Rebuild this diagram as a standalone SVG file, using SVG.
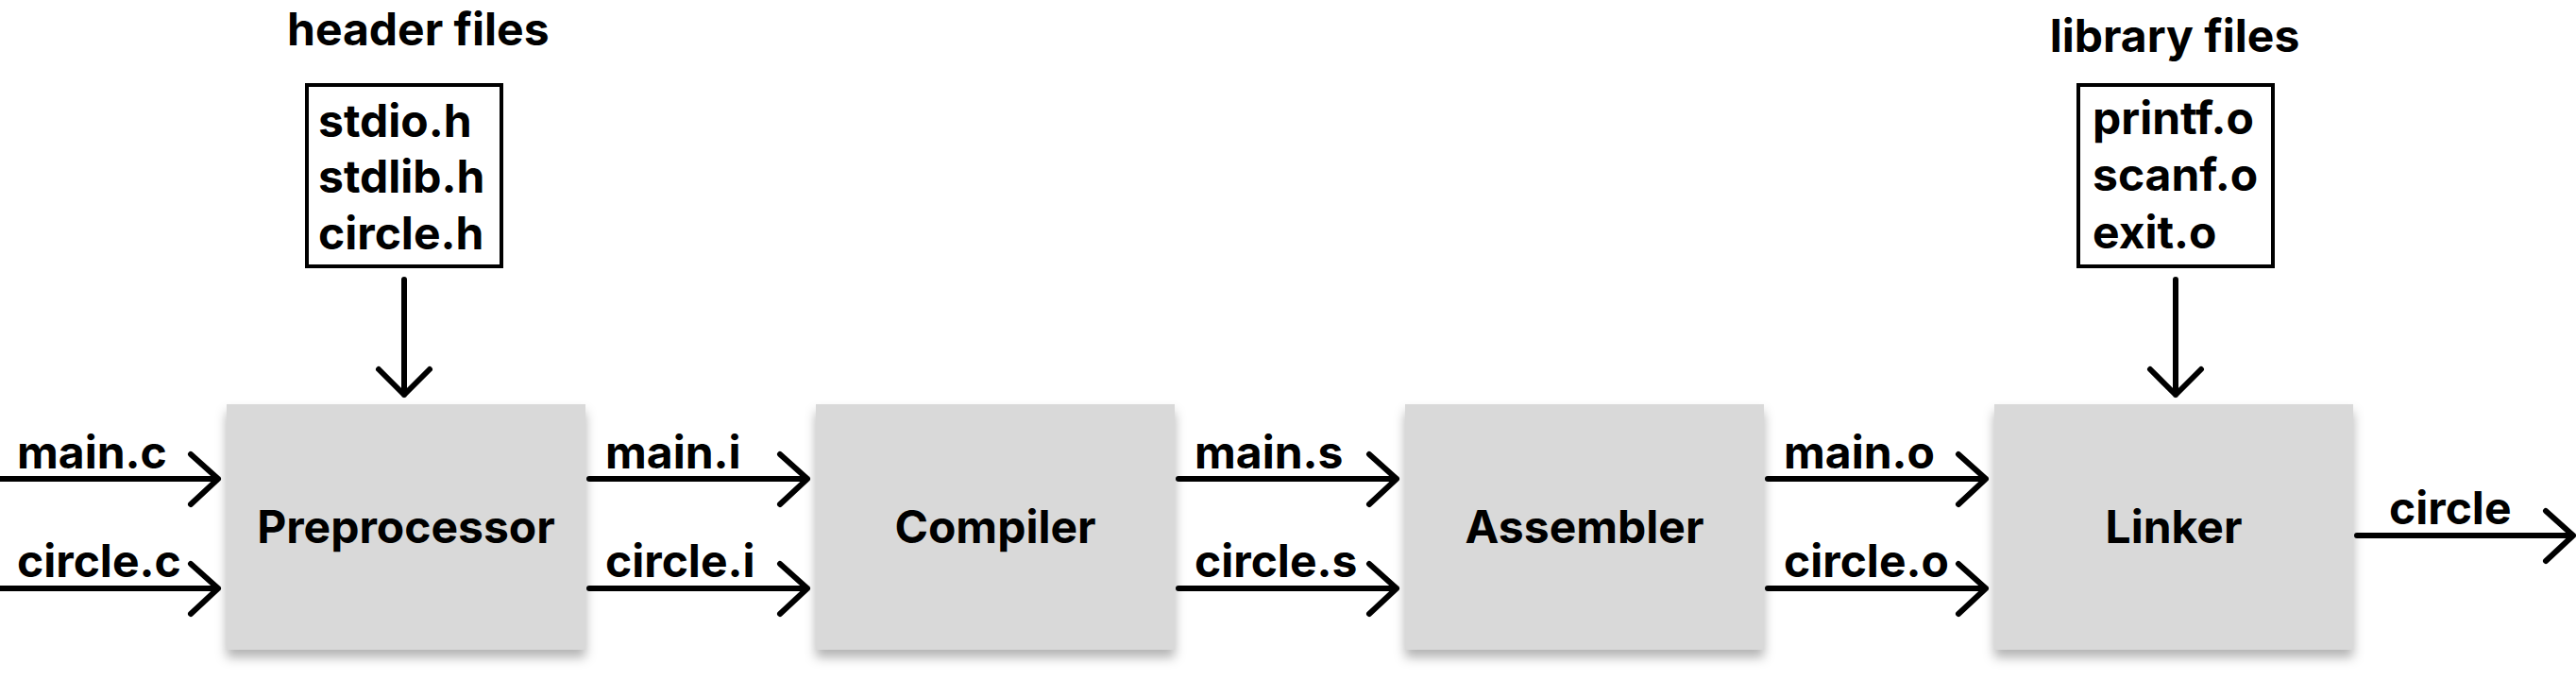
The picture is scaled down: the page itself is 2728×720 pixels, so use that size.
<svg xmlns="http://www.w3.org/2000/svg" width="2728" height="720" viewBox="0 0 2728 720">
<style>
text{font-family:Inter,"Liberation Sans",sans-serif;font-weight:700;font-size:48px;fill:#000}
.node{fill:#d9d9d9;filter:url(#sh)}
.mid{text-anchor:middle}
.c{fill:none;stroke:#000;stroke-width:6;stroke-linecap:round;stroke-linejoin:round}
.fbox{fill:#fff;stroke:#000;stroke-width:4}
</style>
<defs>
<filter id="sh" x="-10%" y="-10%" width="120%" height="130%">
<feDropShadow dx="0" dy="8" stdDeviation="6" flood-color="#000" flood-opacity="0.3"/>
</filter>
</defs>
<rect width="2728" height="720" fill="#fff"/>
<g id="header">
<text x="304" y="48">header files</text>
<rect class="fbox" x="325" y="90" width="206" height="192"/>
<text x="337" y="145">stdio.h</text>
<text x="337" y="204">stdlib.h</text>
<text x="337" y="264">circle.h</text>
</g>
<g id="library">
<text x="2303" y="55" class="mid">library files</text>
<rect class="fbox" x="2201" y="90" width="206" height="192"/>
<text x="2216" y="142">printf.o</text>
<text x="2216" y="202">scanf.o</text>
<text x="2216" y="263">exit.o</text>
</g>
<g id="preprocessor">
<rect class="node" x="240" y="428" width="380" height="260"/>
<text x="430" y="575" class="mid">Preprocessor</text>
</g>
<g id="compiler">
<rect class="node" x="864" y="428" width="380" height="260"/>
<text x="1054" y="575" class="mid">Compiler</text>
</g>
<g id="assembler">
<rect class="node" x="1488" y="428" width="380" height="260"/>
<text x="1678" y="575" class="mid">Assembler</text>
</g>
<g id="linker">
<rect class="node" x="2112" y="428" width="380" height="260"/>
<text x="2302" y="575" class="mid">Linker</text>
</g>
<g id="connectors">
<path class="c" d="M428 296V418M401 391L428 418L455 391"/>
<path class="c" d="M2304 296V418M2277 391L2304 418L2331 391"/>
<path class="c" d="M0 507H231M202 481L231 507L202 534"/>
<path class="c" d="M0 623H231M202 597L231 623L202 650"/>
<path class="c" d="M624 507H855M826 481L855 507L826 534"/>
<path class="c" d="M624 623H855M826 597L855 623L826 650"/>
<path class="c" d="M1248 507H1479M1450 481L1479 507L1450 534"/>
<path class="c" d="M1248 623H1479M1450 597L1479 623L1450 650"/>
<path class="c" d="M1872 507H2103M2074 481L2103 507L2074 534"/>
<path class="c" d="M1872 623H2103M2074 597L2103 623L2074 650"/>
<path class="c" d="M2496 567H2725M2696 541L2725 567L2696 594"/>
<text x="18" y="496">main.c</text>
<text x="18" y="611">circle.c</text>
<text x="641" y="496">main.i</text>
<text x="641" y="611">circle.i</text>
<text x="1265" y="496">main.s</text>
<text x="1265" y="611">circle.s</text>
<text x="1889" y="496">main.o</text>
<text x="1889" y="611">circle.o</text>
<text x="2530" y="555">circle</text>
</g>
</svg>
